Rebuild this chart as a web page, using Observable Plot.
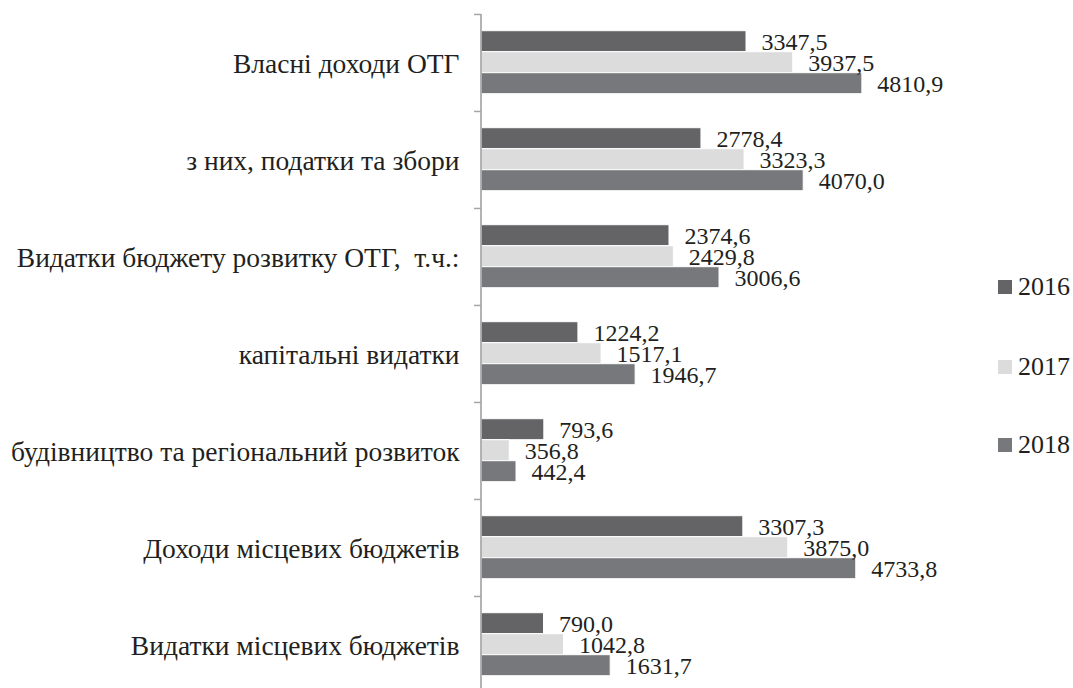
<!DOCTYPE html>
<html>
<head>
<meta charset="utf-8">
<script src="https://cdn.jsdelivr.net/npm/d3@7"></script>
<script src="https://cdn.jsdelivr.net/npm/@observablehq/plot@0.6"></script>
<style>
  html, body { margin: 0; padding: 0; background: #fff; overflow: hidden; }
  #wrap { position: relative; width: 1073px; height: 688px; font-family: 'Liberation Serif', serif; color: #231f20; }
  #legend { position: absolute; left: 998px; top: 0; }
  .item { position: absolute; left: 0; height: 30px; display: flex; align-items: center; white-space: nowrap; font-size: 26px; }
  .sw { width: 14px; height: 14px; margin-right: 6px; }
</style>
</head>
<body>
<div id="wrap"><div id="chart"></div><div id="legend"></div></div>
<script>
const categories = [
  "Власні доходи ОТГ",
  "з них, податки та збори",
  "Видатки бюджету розвитку ОТГ,  т.ч.:",
  "капітальні видатки",
  "будівництво та регіональний розвиток",
  "Доходи місцевих бюджетів",
  "Видатки місцевих бюджетів"
];
const years = ["2016", "2017", "2018"];
const values2016 = [3347.5, 2778.4, 2374.6, 1224.2, 793.6, 3307.3, 790.0];
const values2017 = [3937.5, 3323.3, 2429.8, 1517.1, 356.8, 3875.0, 1042.8];
const values2018 = [4810.9, 4070.0, 3006.6, 1946.7, 442.4, 4733.8, 1631.7];
const colors = ["#646466", "#dcdcdd", "#77787b"];

const series = [values2016, values2017, values2018];
const data = [];
categories.forEach((c, i) => {
  years.forEach((y, j) => data.push({category: c, year: y, value: series[j][i]}));
});
const fmt = v => d3.format(".1f")(v).replace(".", ",");
const ink = "#231f20";
const axisGray = "#a6a6a6";
const step = 97.07;
const font = "Liberation Serif";

const chart = Plot.plot({
  width: 1073,
  height: 693,
  marginLeft: 481,
  marginRight: 117,
  marginTop: 13.3,
  marginBottom: 0,
  style: {fontFamily: "'Liberation Serif', serif", color: ink, background: "transparent"},
  x: {domain: [0, 6000], axis: null},
  y: {domain: years, paddingInner: 0, paddingOuter: 0.74, axis: null},
  fy: {domain: categories, padding: 0, axis: null},
  color: {domain: years, range: colors},
  marks: [
    Plot.barX(data, {fy: "category", y: "year", x: "value", fill: "year", stroke: "white", strokeWidth: 1}),
    Plot.text(data, {fy: "category", y: "year", x: "value", text: d => fmt(d.value), textAnchor: "start", dx: 15, dy: 1, fontSize: 24, fontFamily: font, fill: ink}),
    Plot.ruleX([0], {stroke: axisGray, strokeWidth: 1.7, dx: -0.5}),
    Plot.axisFy({anchor: "left", tickSize: 7, fill: "none", stroke: axisGray, strokeWidth: 1.5, dy: -step / 2, label: null}),
    Plot.axisFy({anchor: "left", tickSize: 0, tickPadding: 22, dy: 1, fontSize: 27.5, fontFamily: font, fill: ink, label: null})
  ]
});
document.getElementById("chart").appendChild(chart);

const legend = document.getElementById("legend");
const centers = [287, 367, 445];
years.forEach((y, i) => {
  const item = document.createElement("div");
  item.className = "item";
  item.style.top = (centers[i] - 15) + "px";
  const sw = document.createElement("div");
  sw.className = "sw";
  sw.style.background = colors[i];
  const t = document.createElement("span");
  t.textContent = y;
  item.appendChild(sw);
  item.appendChild(t);
  legend.appendChild(item);
});
</script>
</body>
</html>
